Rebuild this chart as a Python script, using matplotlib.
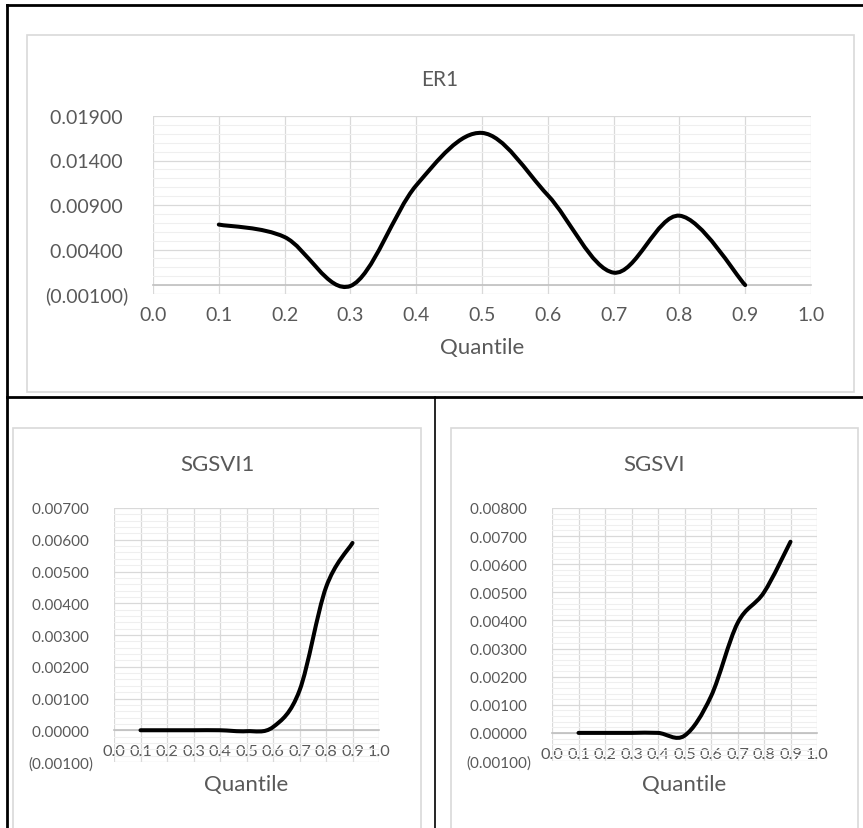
import matplotlib
matplotlib.use("Agg")
import numpy as np
import matplotlib.pyplot as plt
from matplotlib.path import Path
from matplotlib.patches import PathPatch, Rectangle
from matplotlib.lines import Line2D
from matplotlib.ticker import MultipleLocator, FuncFormatter

plt.rcParams["font.family"] = ["Lato", "DejaVu Sans"]

# data
quantile = [0.1, 0.2, 0.3, 0.4, 0.5, 0.6, 0.7, 0.8, 0.9]
er1 = [0.0068, 0.0054, -0.0001, 0.0112, 0.0171, 0.0101, 0.0014, 0.0078, 0.0000]
sgsvi1 = [0.0, 0.0, 0.0, 0.0, -0.00003, 0.0001, 0.00125, 0.0045, 0.0059]
sgsvi = [0.0, 0.0, 0.0, 0.0, -0.0001, 0.0013, 0.0039, 0.0050, 0.0068]
x_ticks = [0.0, 0.1, 0.2, 0.3, 0.4, 0.5, 0.6, 0.7, 0.8, 0.9, 1.0]

W, H = 863, 829
TXT = "#595959"


def px(x0, y0, x1, y1):
    # pixel box (top-left origin) -> figure rect
    return [x0 / W, 1 - y1 / H, (x1 - x0) / W, (y1 - y0) / H]


def smooth_path(xs, ys):
    # excel style smoothed line: bezier through the points
    pts = list(zip(xs, ys))
    n = len(pts)
    verts = [pts[0]]
    codes = [Path.MOVETO]
    for i in range(n - 1):
        p0 = pts[i - 1] if i > 0 else pts[i]
        p1 = pts[i]
        p2 = pts[i + 1]
        p3 = pts[i + 2] if i + 2 < n else pts[i + 1]
        c1 = (p1[0] + (p2[0] - p0[0]) / 6, p1[1] + (p2[1] - p0[1]) / 6)
        c2 = (p2[0] - (p3[0] - p1[0]) / 6, p2[1] - (p3[1] - p1[1]) / 6)
        verts += [c1, c2, p2]
        codes += [Path.CURVE4] * 3
    return Path(verts, codes)


def fmt(v, pos):
    if v < -1e-9:
        return "(%.5f)" % abs(v)
    return "%.5f " % abs(v)


def make_chart(rect, ys, ymin, ymax, ystep, yminor, ytick_fs, xtick_fs, ypad, xpad, lab_y, lw):
    ax = fig.add_axes(rect)
    ax.set_xlim(0, 1)
    ax.set_ylim(ymin, ymax)
    ax.set_xticks(x_ticks)
    ax.set_xticklabels(["%.1f" % v for v in x_ticks])
    ax.set_yticks(np.arange(ymin, ymax + ystep / 2, ystep))
    ax.yaxis.set_minor_locator(MultipleLocator(yminor))
    ax.yaxis.set_major_formatter(FuncFormatter(fmt))
    ax.grid(which="major", color="#d9d9d9", lw=0.9)
    ax.grid(which="minor", axis="y", color="#efefef", lw=0.8)
    ax.set_axisbelow(True)
    for s in ["top", "right", "left"]:
        ax.spines[s].set_visible(False)
    ax.spines["bottom"].set_position(("data", 0))
    ax.spines["bottom"].set_color("#bfbfbf")
    ax.spines["bottom"].set_linewidth(1.2)
    ax.tick_params(which="both", length=0, colors=TXT)
    ax.tick_params(axis="y", pad=ypad, labelsize=ytick_fs)
    ax.tick_params(axis="x", pad=xpad, labelsize=xtick_fs)
    ax.add_patch(PathPatch(smooth_path(quantile, ys), fill=False, ec="black",
                           lw=lw, capstyle="round", joinstyle="round", zorder=5))
    ax.set_xlabel("Quantile", fontsize=16, color=TXT)
    ax.xaxis.set_label_coords(0.5, lab_y)
    ax.xaxis.label.set_va("center")
    return ax


fig = plt.figure(figsize=(W / 100, H / 100), dpi=100)

# table lines
fig.add_artist(Line2D([7 / W, 1], [1 - 6 / H, 1 - 6 / H], color="black", lw=2))
fig.add_artist(Line2D([7 / W, 7 / W], [0, 1 - 6 / H], color="black", lw=2))
fig.add_artist(Line2D([7 / W, 1], [1 - 398 / H, 1 - 398 / H], color="black", lw=2))
fig.add_artist(Line2D([435 / W, 435 / W], [0, 1 - 398 / H], color="black", lw=1.2))

# chart frames
for x0, y0, x1, y1 in [(27, 36, 854, 393), (13, 429, 421, 840), (451, 429, 858, 840)]:
    r = px(x0, y0, x1, y1)
    fig.add_artist(Rectangle((r[0], r[1]), r[2], r[3], transform=fig.transFigure,
                             fill=False, ec="#d9d9d9", lw=1.2))

# top chart
make_chart(px(153, 117, 811, 295), er1, -0.001, 0.019, 0.005, 0.001,
           14, 14, 18, 15, -0.298, 2.9)
fig.text(440 / W, 1 - 80 / H, "ER1", ha="center", va="center", fontsize=15, color=TXT)

# bottom left
make_chart(px(114, 509, 379, 763), sgsvi1, -0.001, 0.007, 0.001, 0.0002,
           11, 11.8, 15, 10, -0.087, 2.9)
fig.text(217 / W, 1 - 465 / H, "SGSVI1", ha="center", va="center", fontsize=16, color=TXT)

# bottom right
make_chart(px(552, 509, 817, 762), sgsvi, -0.001, 0.008, 0.001, 0.0002,
           11, 11.8, 15, 10, -0.091, 2.9)
fig.text(654 / W, 1 - 465 / H, "SGSVI", ha="center", va="center", fontsize=16, color=TXT)

fig.savefig("out.png", dpi=100)
